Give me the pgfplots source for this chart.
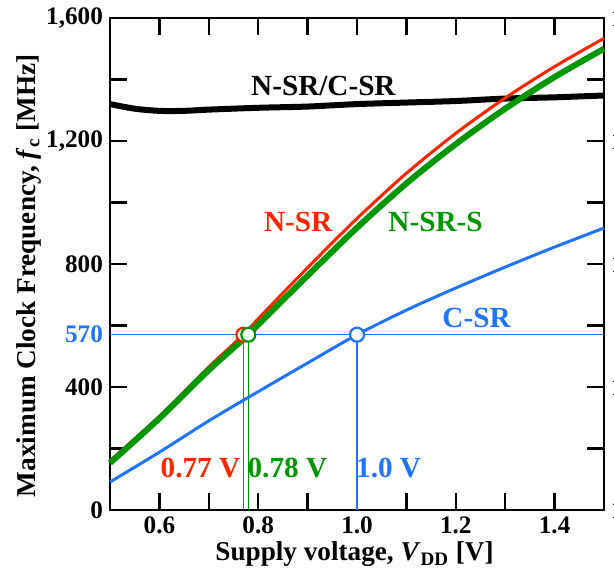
\documentclass[border=0pt]{standalone}
\usepackage{fontspec}
\setmainfont{Liberation Serif}
\usepackage{pgfplots}
\pgfplotsset{compat=1.18}

\definecolor{cred}{RGB}{255,35,0}
\definecolor{cgreen}{RGB}{0,150,0}
\definecolor{cblue}{RGB}{30,115,255}

\begin{document}
\begin{tikzpicture}[font=\fontsize{12.6}{14}\selectfont\bfseries]
\begin{axis}[
  scale only axis,
  width=247pt, height=246pt,
  xmin=0.5, xmax=1.5, ymin=0, ymax=1600,
  clip=false,
  axis line style={line width=1.4pt},
  tick style={line width=1.2pt, black},
  tick align=inside,
  major tick length=8.5pt, minor tick length=8.5pt,
  xtick={0.6,0.8,1.0,1.2,1.4},
  xticklabels={0.6,0.8,1.0,1.2,1.4},
  minor xtick={0.7,0.9,1.1,1.3},
  ytick={0,400,800,1200,1600},
  yticklabels={0,400,800,{1,200},{1,600}},
  minor ytick={200,600,1000,1400},
  extra y ticks={570},
  extra y tick labels={570},
  extra y tick style={major tick length=0pt, yticklabel style={text=cblue}},
  /pgf/number format/assume math mode=true,
  xlabel={Supply voltage, \textit{V}\textsubscript{DD} [V]},
  ylabel={Maximum Clock Frequency, \textit{f}\textsubscript{c} [MHz]},
  label style={font=\fontsize{13.6}{15}\selectfont\bfseries},
  xlabel style={at={(axis description cs:0.495,-0.09)}, anchor=center},
  ylabel style={at={(axis description cs:-0.165,0.476)}, anchor=center},
]
% guide lines at 570 MHz
\addplot[cblue, line width=0.7pt] coordinates {(0.5,570)(1.5,570)};
\addplot[cred, line width=0.7pt] coordinates {(0.77,0)(0.77,570)};
\addplot[cgreen, line width=0.7pt] coordinates {(0.78,0)(0.78,570)};
\addplot[cblue, line width=0.7pt] coordinates {(1.0,0)(1.0,570)};

% N-SR/C-SR
\addplot[black, line width=3pt, smooth] coordinates {
(0.5,1320)(0.55,1305)(0.6,1298)(0.65,1298)(0.7,1302)(0.8,1308)(0.9,1312)
(1.0,1320)(1.1,1325)(1.2,1330)(1.3,1338)(1.4,1342)(1.5,1348)};
% C-SR
\addplot[cblue, line width=1.5pt, smooth] coordinates {
(0.5,91)(0.6,188)(0.7,290)(0.8,385)(0.9,478)(1.0,570)(1.1,650)
(1.2,722)(1.3,790)(1.4,855)(1.5,917)};
% N-SR
\addplot[cred, line width=1.5pt, smooth] coordinates {
(0.5,160)(0.6,305)(0.7,465)(0.77,570)(0.8,622)(0.9,788)(1.0,948)
(1.1,1095)(1.2,1225)(1.3,1340)(1.4,1442)(1.5,1534)};
% N-SR-S
\addplot[cgreen, line width=3pt, smooth] coordinates {
(0.5,153)(0.6,298)(0.7,455)(0.78,570)(0.8,603)(0.9,762)(1.0,918)
(1.1,1062)(1.2,1190)(1.3,1305)(1.4,1408)(1.5,1500)};

% crossing points
\addplot[cred, only marks, mark=*, mark size=3.5pt,
  mark options={fill=white, line width=1.1pt}] coordinates {(0.77,570)};
\addplot[cgreen, only marks, mark=*, mark size=3.5pt,
  mark options={fill=white, line width=1.1pt}] coordinates {(0.78,570)};
\addplot[cblue, only marks, mark=*, mark size=3.5pt,
  mark options={fill=white, line width=1.1pt}] coordinates {(1.0,570)};

\begin{scope}[font=\fontsize{14.6}{16}\selectfont\bfseries]
\node at (axis cs:0.932,1379) {N-SR/C-SR};
\node[text=cred] at (axis cs:0.881,937) {N-SR};
\node[text=cgreen] at (axis cs:1.159,937) {N-SR-S};
\node[text=cblue] at (axis cs:1.242,624) {C-SR};
\node[text=cred] at (axis cs:0.683,137) {0.77 V};
\node[text=cgreen] at (axis cs:0.859,137) {0.78 V};
\node[text=cblue] at (axis cs:1.064,137) {1.0 V};
\end{scope}

% right-hand labels, cut by the page edge as in the source figure
\node[anchor=west] at (axis cs:1.5,0) {1};
\node[anchor=west] at (axis cs:1.5,400) {1};
\node[anchor=west] at (axis cs:1.5,800) {1};
\node[anchor=west] at (axis cs:1.5,1200) {1};
\node[anchor=west] at (axis cs:1.5,1600) {1};
\end{axis}
\pgfresetboundingbox
\path ([shift={(-55pt,-33pt)}]current axis.south west)
  rectangle ([shift={(5pt,9pt)}]current axis.north east);
\end{tikzpicture}
\end{document}
